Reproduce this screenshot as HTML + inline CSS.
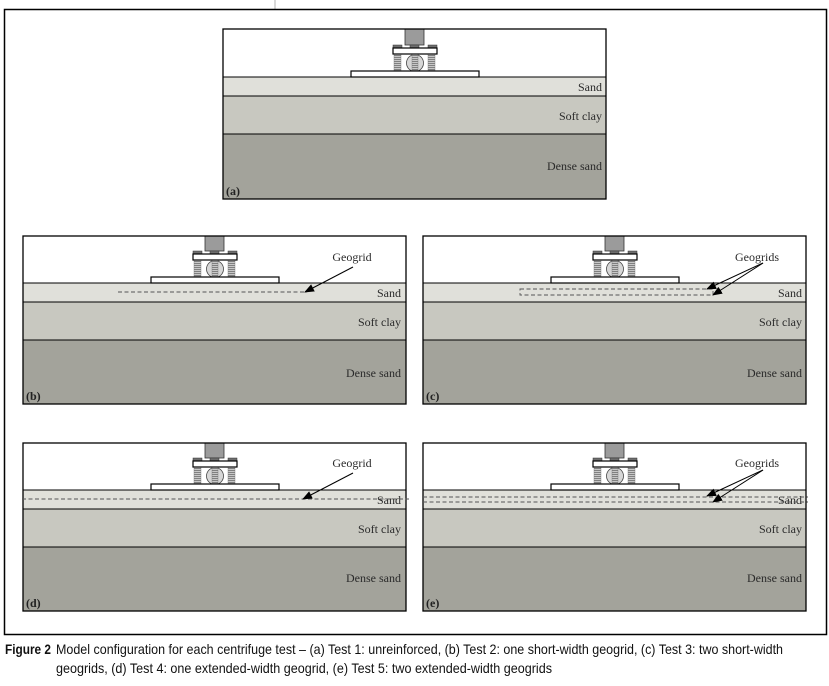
<!DOCTYPE html>
<html>
<head>
<meta charset="utf-8">
<style>
  html,body{margin:0;padding:0;background:#fff;}
  svg{display:block;}
  .lbl{font-family:"Liberation Serif",serif;font-size:12px;fill:#2a2a2a;}
  .tag{font-family:"Liberation Serif",serif;font-size:12px;fill:#222;font-weight:bold;}
  .cap{font-family:"Liberation Sans Narrow","Liberation Sans",sans-serif;font-size:14px;fill:#111;}
</style>
</head>
<body>
<svg width="829" height="686" viewBox="0 0 829 686" xmlns="http://www.w3.org/2000/svg">
  <defs>
    <pattern id="thr" patternUnits="userSpaceOnUse" width="4" height="2">
      <rect x="0" y="0" width="4" height="2" fill="#e8e8e8"/>
      <rect x="0" y="0" width="4" height="1.3" fill="#808080"/>
    </pattern>
    <marker id="ah" markerWidth="10" markerHeight="8" refX="9" refY="4" orient="auto" markerUnits="userSpaceOnUse">
      <path d="M0,0 L10,4 L0,8 z" fill="#000"/>
    </marker>
    <g id="foot">
      <rect x="170" y="-32" width="9" height="3" fill="#6e6e6e" stroke="#333" stroke-width="0.5"/>
      <rect x="187" y="-32" width="9" height="3" fill="#6e6e6e" stroke="#333" stroke-width="0.5"/>
      <rect x="205" y="-32" width="9" height="3" fill="#6e6e6e" stroke="#333" stroke-width="0.5"/>
      <circle cx="192" cy="-14" r="8.5" fill="#d6d6d6" stroke="#444" stroke-width="0.8"/>
      <rect x="171" y="-23" width="7" height="17" fill="url(#thr)" stroke="#777" stroke-width="0.4"/>
      <rect x="189" y="-23" width="6" height="17" fill="url(#thr)" stroke="#777" stroke-width="0.4"/>
      <rect x="205" y="-23" width="7" height="17" fill="url(#thr)" stroke="#777" stroke-width="0.4"/>
      <rect x="170" y="-29" width="44" height="6" fill="#fff" stroke="#000" stroke-width="1.2"/>
      <rect x="128" y="-6" width="128" height="6" fill="#fff" stroke="#000" stroke-width="1.2"/>
    </g>
  </defs>

  <line x1="275" y1="0" x2="275" y2="9" stroke="#b0b0b0" stroke-width="1"/>
  <rect x="4.5" y="9.5" width="822" height="625" fill="#fff" stroke="#000" stroke-width="1.5"/>

  <!-- (a) -->
  <g>
    <rect x="223" y="29" width="383" height="48" fill="#fff"/>
    <rect x="223" y="77" width="383" height="19" fill="#e0e0da"/>
    <rect x="223" y="96" width="383" height="38" fill="#c8c8c0"/>
    <rect x="223" y="134" width="383" height="65" fill="#a3a39b"/>
    <line x1="223" y1="77" x2="606" y2="77" stroke="#000" stroke-width="1"/>
    <line x1="223" y1="96" x2="606" y2="96" stroke="#000" stroke-width="1"/>
    <line x1="223" y1="134" x2="606" y2="134" stroke="#000" stroke-width="1"/>
    <rect x="405" y="29" width="19" height="16" fill="#9b9b9b" stroke="#333" stroke-width="0.8"/>
    <use href="#foot" transform="translate(223,77)"/>
    <rect x="223" y="29" width="383" height="170" fill="none" stroke="#000" stroke-width="1.3"/>
    <text class="lbl" x="602" y="91" text-anchor="end">Sand</text>
    <text class="lbl" x="602" y="120" text-anchor="end">Soft clay</text>
    <text class="lbl" x="602" y="170" text-anchor="end">Dense sand</text>
    <text class="tag" x="226" y="195">(a)</text>
  </g>

  <!-- (b) -->
  <g>
    <rect x="23" y="236" width="383" height="47" fill="#fff"/>
    <rect x="23" y="283" width="383" height="19" fill="#e0e0da"/>
    <rect x="23" y="302" width="383" height="38" fill="#c8c8c0"/>
    <rect x="23" y="340" width="383" height="64" fill="#a3a39b"/>
    <line x1="23" y1="283" x2="406" y2="283" stroke="#000" stroke-width="1"/>
    <line x1="23" y1="302" x2="406" y2="302" stroke="#000" stroke-width="1"/>
    <line x1="23" y1="340" x2="406" y2="340" stroke="#000" stroke-width="1"/>
    <rect x="205" y="236" width="19" height="15" fill="#9b9b9b" stroke="#333" stroke-width="0.8"/>
    <use href="#foot" transform="translate(23,283)"/>
    <line x1="118" y1="292" x2="307" y2="292" stroke="#555" stroke-width="0.9" stroke-dasharray="4,2.5"/>
    <line x1="353" y1="267" x2="305" y2="292" stroke="#000" stroke-width="1" marker-end="url(#ah)"/>
    <rect x="23" y="236" width="383" height="168" fill="none" stroke="#000" stroke-width="1.3"/>
    <text class="lbl" x="352" y="261" text-anchor="middle">Geogrid</text>
    <text class="lbl" x="401" y="297" text-anchor="end">Sand</text>
    <text class="lbl" x="401" y="326" text-anchor="end">Soft clay</text>
    <text class="lbl" x="401" y="377" text-anchor="end">Dense sand</text>
    <text class="tag" x="26" y="400">(b)</text>
  </g>

  <!-- (c) -->
  <g>
    <rect x="423" y="236" width="383" height="47" fill="#fff"/>
    <rect x="423" y="283" width="383" height="19" fill="#e0e0da"/>
    <rect x="423" y="302" width="383" height="38" fill="#c8c8c0"/>
    <rect x="423" y="340" width="383" height="64" fill="#a3a39b"/>
    <line x1="423" y1="283" x2="806" y2="283" stroke="#000" stroke-width="1"/>
    <line x1="423" y1="302" x2="806" y2="302" stroke="#000" stroke-width="1"/>
    <line x1="423" y1="340" x2="806" y2="340" stroke="#000" stroke-width="1"/>
    <rect x="605" y="236" width="19" height="15" fill="#9b9b9b" stroke="#333" stroke-width="0.8"/>
    <use href="#foot" transform="translate(423,283)"/>
    <rect x="520" y="289" width="193" height="6" fill="none" stroke="#555" stroke-width="0.9" stroke-dasharray="4,2.5"/>
    <line x1="763" y1="263" x2="707" y2="289" stroke="#000" stroke-width="1" marker-end="url(#ah)"/>
    <line x1="763" y1="263" x2="713" y2="295" stroke="#000" stroke-width="1" marker-end="url(#ah)"/>
    <rect x="423" y="236" width="383" height="168" fill="none" stroke="#000" stroke-width="1.3"/>
    <text class="lbl" x="757" y="261" text-anchor="middle">Geogrids</text>
    <text class="lbl" x="802" y="297" text-anchor="end">Sand</text>
    <text class="lbl" x="802" y="326" text-anchor="end">Soft clay</text>
    <text class="lbl" x="802" y="377" text-anchor="end">Dense sand</text>
    <text class="tag" x="426" y="400">(c)</text>
  </g>

  <!-- (d) -->
  <g>
    <rect x="23" y="443" width="383" height="47" fill="#fff"/>
    <rect x="23" y="490" width="383" height="19" fill="#e0e0da"/>
    <rect x="23" y="509" width="383" height="38" fill="#c8c8c0"/>
    <rect x="23" y="547" width="383" height="64" fill="#a3a39b"/>
    <line x1="23" y1="490" x2="406" y2="490" stroke="#000" stroke-width="1"/>
    <line x1="23" y1="509" x2="406" y2="509" stroke="#000" stroke-width="1"/>
    <line x1="23" y1="547" x2="406" y2="547" stroke="#000" stroke-width="1"/>
    <rect x="205" y="443" width="19" height="15" fill="#9b9b9b" stroke="#333" stroke-width="0.8"/>
    <use href="#foot" transform="translate(23,490)"/>
    <rect x="23" y="443" width="383" height="168" fill="none" stroke="#000" stroke-width="1.3"/>
    <text class="lbl" x="352" y="467" text-anchor="middle">Geogrid</text>
    <text class="lbl" x="401" y="504" text-anchor="end">Sand</text>
    <text class="lbl" x="401" y="533" text-anchor="end">Soft clay</text>
    <text class="lbl" x="401" y="582" text-anchor="end">Dense sand</text>
    <text class="tag" x="26" y="607">(d)</text>
    <line x1="22" y1="499" x2="409" y2="499" stroke="#555" stroke-width="0.9" stroke-dasharray="4,2.5"/>
    <line x1="353" y1="473" x2="303" y2="499" stroke="#000" stroke-width="1" marker-end="url(#ah)"/>
  </g>

  <!-- (e) -->
  <g>
    <rect x="423" y="443" width="383" height="47" fill="#fff"/>
    <rect x="423" y="490" width="383" height="19" fill="#e0e0da"/>
    <rect x="423" y="509" width="383" height="38" fill="#c8c8c0"/>
    <rect x="423" y="547" width="383" height="64" fill="#a3a39b"/>
    <line x1="423" y1="490" x2="806" y2="490" stroke="#000" stroke-width="1"/>
    <line x1="423" y1="509" x2="806" y2="509" stroke="#000" stroke-width="1"/>
    <line x1="423" y1="547" x2="806" y2="547" stroke="#000" stroke-width="1"/>
    <rect x="605" y="443" width="19" height="15" fill="#9b9b9b" stroke="#333" stroke-width="0.8"/>
    <use href="#foot" transform="translate(423,490)"/>
    <rect x="423" y="443" width="383" height="168" fill="none" stroke="#000" stroke-width="1.3"/>
    <text class="lbl" x="757" y="467" text-anchor="middle">Geogrids</text>
    <text class="lbl" x="802" y="504" text-anchor="end">Sand</text>
    <text class="lbl" x="802" y="533" text-anchor="end">Soft clay</text>
    <text class="lbl" x="802" y="582" text-anchor="end">Dense sand</text>
    <text class="tag" x="426" y="607">(e)</text>
    <line x1="423" y1="497" x2="808" y2="497" stroke="#555" stroke-width="0.9" stroke-dasharray="4,2.5"/>
    <line x1="423" y1="502" x2="808" y2="502" stroke="#555" stroke-width="0.9" stroke-dasharray="4,2.5"/>
    <line x1="763" y1="470" x2="707" y2="496" stroke="#000" stroke-width="1" marker-end="url(#ah)"/>
    <line x1="763" y1="470" x2="713" y2="502" stroke="#000" stroke-width="1" marker-end="url(#ah)"/>
  </g>

  <text class="cap" x="5" y="654" font-weight="bold" textLength="46" lengthAdjust="spacingAndGlyphs">Figure 2</text>
  <text class="cap" x="56" y="654" textLength="727" lengthAdjust="spacingAndGlyphs">Model configuration for each centrifuge test – (a) Test 1: unreinforced, (b) Test 2: one short-width geogrid, (c) Test 3: two short-width</text>
  <text class="cap" x="56" y="673" textLength="496" lengthAdjust="spacingAndGlyphs">geogrids, (d) Test 4: one extended-width geogrid, (e) Test 5: two extended-width geogrids</text>
</svg>
</body>
</html>
